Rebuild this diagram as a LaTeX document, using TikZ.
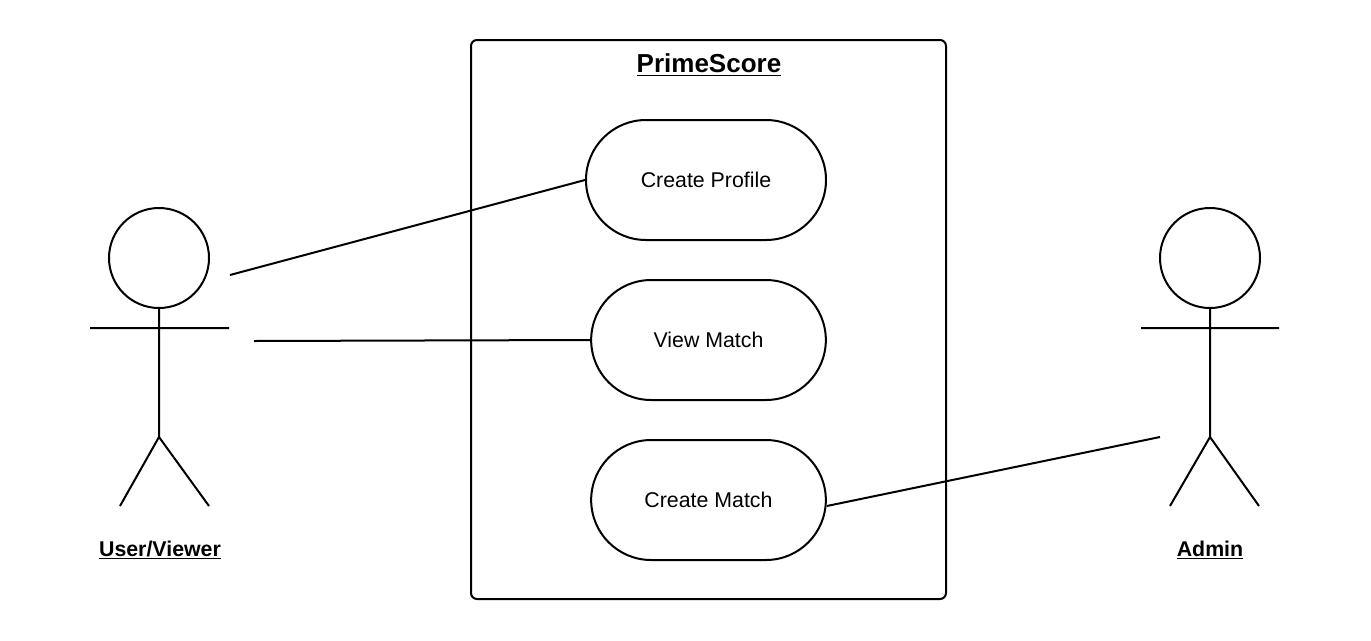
\documentclass[tikz,border=0pt]{standalone}
\usepackage{fontspec}
\setmainfont{Liberation Sans}
\usetikzlibrary{shapes.misc}
\begin{document}
\begin{tikzpicture}[x=0.75pt,y=-0.75pt,line width=1.5pt,
  uc/.style={draw,rounded rectangle,minimum height=90pt,font=\fontsize{16}{19}\selectfont,inner sep=0pt},
  lbl/.style={font=\bfseries\fontsize{16}{19}\selectfont}]
\useasboundingbox (0,0) rectangle (1371,640);
\draw[rounded corners=4.5pt] (471,40) rectangle (946,599);
\node[lbl,font=\bfseries\fontsize{19.5}{23}\selectfont] (title) at (709,65) {\underline{PrimeScore}};
\node[uc,minimum width=180pt] (cp) at (706,180) {Create Profile};
\node[uc,minimum width=176pt] (vm) at (708.5,340) {View Match};
\node[uc,minimum width=176pt] (cm) at (708.5,500) {Create Match};
% user actor
\draw (159,258) circle[radius=37.5pt];
\draw (90,328) -- (229,328) (159,308) -- (159,437) (120,506) -- (159,437) -- (209,506);
\node[lbl] (user) at (160,550) {\underline{User/Viewer}};
% admin actor
\draw (1210,258) circle[radius=37.5pt];
\draw (1141,328) -- (1279,328) (1210,308) -- (1210,437) (1170,506) -- (1210,437) -- (1259,506);
\node[lbl] (admin) at (1210,550) {\underline{Admin}};
\coordinate (u1) at (230,275);
\coordinate (u2) at (254,341);
\coordinate (a1) at (1160,437);
\draw (u1) -- (cp.west);
\draw (u2) -- (vm.west);
\draw (a1) -- ([yshift=-4.5pt]cm.east);
\end{tikzpicture}
\end{document}
